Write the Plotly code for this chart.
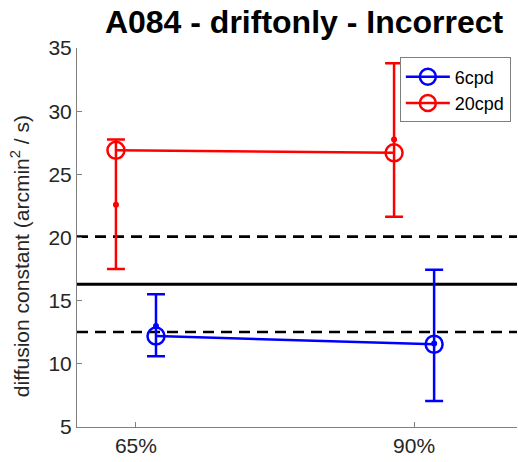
import plotly.graph_objects as go

# Categories and per-condition values
categories = ["65%", "90%"]
cat_pos = [1, 2]
offset = 0.072

d6_mean = [12.2, 11.55]
d6_hi = [15.5, 17.45]
d6_lo = [10.6, 7.05]
d6_dot = [13.0, 11.6]

d20_mean = [26.9, 26.7]
d20_hi = [27.75, 33.8]
d20_lo = [17.5, 21.65]
d20_dot = [22.6, 27.75]

# Reference levels: mean and +/- band
ref_mean = 16.3
ref_upper = 20.07
ref_lower = 12.52

FONT = "Liberation Sans, Arial, sans-serif"

x6 = [c + offset for c in cat_pos]
x20 = [c - offset for c in cat_pos]

fig = go.Figure()

for yv, dash, w in [(ref_upper, "dash", 2.6), (ref_mean, "solid", 3), (ref_lower, "dash", 2.6)]:
    fig.add_shape(type="line", xref="paper", x0=0, x1=1, yref="y", y0=yv, y1=yv,
                  line=dict(color="black", width=w, dash="11px,7px" if dash == "dash" else "solid"),
                  layer="below")


def add_series(xs, mean, hi, lo, dots, color, name):
    fig.add_trace(go.Scatter(
        x=xs, y=mean, mode="lines+markers", name=name,
        line=dict(color=color, width=2.5),
        marker=dict(symbol="circle-open", size=17, color=color, line=dict(width=2.5, color=color)),
        error_y=dict(type="data", symmetric=False,
                     array=[h - m for h, m in zip(hi, mean)],
                     arrayminus=[m - l for m, l in zip(mean, lo)],
                     color=color, thickness=2.5, width=9),
    ))
    fig.add_trace(go.Scatter(
        x=xs, y=dots, mode="markers", showlegend=False,
        marker=dict(symbol="circle", size=6, color=color),
    ))


add_series(x6, d6_mean, d6_hi, d6_lo, d6_dot, "#0000ff", "6cpd")
add_series(x20, d20_mean, d20_hi, d20_lo, d20_dot, "#ff0000", "20cpd")

# Rotated y-axis title placed beside the tick labels
fig.add_annotation(text="diffusion constant (arcmin<sup>2</sup> / s)",
                   xref="paper", yref="paper", x=-0.128, y=0.45,
                   xanchor="center", yanchor="middle", textangle=-90,
                   showarrow=False, font=dict(size=21, color="#262626"))

fig.update_layout(
    width=518, height=462,
    margin=dict(l=77, r=1, t=48, b=35),
    plot_bgcolor="white", paper_bgcolor="white",
    font=dict(family=FONT, size=21, color="#262626"),
    title=dict(text="<b>A084 - driftonly - Incorrect</b>", x=0.587, xanchor="center",
               y=0.952, yanchor="middle", font=dict(size=32, color="black")),
    showlegend=True,
    legend=dict(x=0.986, xanchor="right", y=0.975, yanchor="top",
                bgcolor="white", bordercolor="#7f7f7f", borderwidth=1,
                font=dict(size=18, color="black"), itemwidth=44,
                tracegroupgap=0),
    xaxis=dict(range=[0.788, 2.37], tickvals=cat_pos, ticktext=categories,
               showgrid=False, zeroline=False, showline=True, linecolor="#808080",
               linewidth=1, ticks="inside", ticklen=5, tickcolor="#808080",
               tickfont=dict(size=21, color="#262626"), mirror=False),
    yaxis=dict(range=[5, 35], tickvals=[5, 10, 15, 20, 25, 30, 35],
               showgrid=False, zeroline=False, showline=True, linecolor="#808080",
               linewidth=1, ticks="inside", ticklen=5, tickcolor="#808080",
               tickfont=dict(size=21, color="#262626"), mirror=False),
)

fig.write_html("out.html")
